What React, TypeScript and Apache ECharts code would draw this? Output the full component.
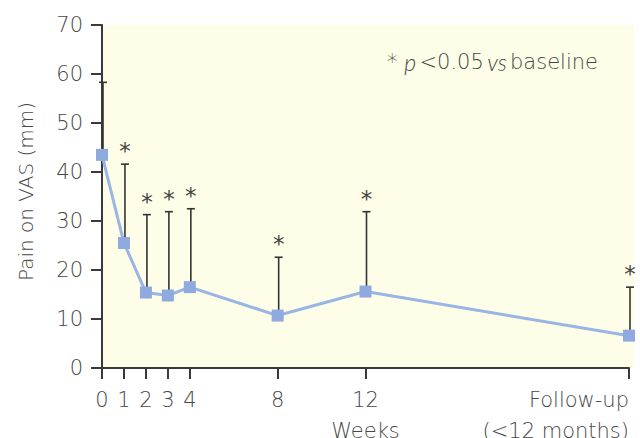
import React, { useEffect, useRef } from "react";
import * as echarts from "echarts";

const weeks = [0, 1, 2, 3, 4, 8, 12, 24];
const meanPain = [43.5, 25.5, 15.4, 14.8, 16.5, 10.7, 15.6, 6.6];
const upperSD = [58.3, 41.6, 31.3, 31.9, 32.5, 22.6, 31.9, 16.5];
const significant = [false, true, true, true, true, true, true, true];
const xTickLabels: Record<number, string> = {
  0: "0",
  1: "1",
  2: "2",
  3: "3",
  4: "4",
  8: "8",
  12: "12",
  24: "Follow-up\n(<12 months)",
};
const yTicks = { min: 0, max: 70, interval: 10 };

const FONT = "'DejaVu Sans', sans-serif";
const ITALIC_FONT = "Lato, 'DejaVu Sans', sans-serif";
const TXT = "#474747";
const W = 200;

export default function App() {
  const ref = useRef<HTMLDivElement>(null);
  useEffect(() => {
    document.body.style.margin = "0";
    const chart = echarts.init(ref.current!, null, { renderer: "svg" });
    const errData = weeks.map((w, i) => [w, meanPain[i], upperSD[i], significant[i] ? 1 : 0]);
    chart.setOption({
      animation: false,
      textStyle: { fontFamily: FONT },
      grid: { left: 102, right: 11, top: 25, bottom: 70, containLabel: false, outerBoundsMode: "none" },
      graphic: [
        {
          type: "rect",
          z: -10,
          silent: true,
          shape: { x: 102, y: 25, width: 532, height: 343 },
          style: { fill: "#fefde8" },
        },
        {
          type: "text",
          right: 42,
          top: 50,
          style: {
            text: "{a|*}  {i|p} {a|<0.05} {i|vs} {a|baseline}",
            rich: {
              a: { fontSize: 21, fontFamily: FONT, fill: TXT, fontWeight: W },
              i: { fontSize: 23, fontFamily: ITALIC_FONT, fill: TXT, fontStyle: "italic", fontWeight: 300 },
            },
          },
        },
      ],
      xAxis: {
        type: "value",
        min: 0,
        max: 24,
        name: "Weeks",
        nameLocation: "middle",
        nameGap: 52,
        nameMoveOverlap: false,
        nameTextStyle: { fontSize: 21, color: TXT, fontFamily: FONT, fontWeight: W },
        axisLine: { show: true, onZero: false, lineStyle: { color: "#3a3a3a", width: 2 } },
        axisTick: { show: true, length: 11, customValues: weeks, lineStyle: { color: "#3a3a3a", width: 2 } },
        axisLabel: {
          customValues: weeks,
          formatter: (v: number) => xTickLabels[v] ?? "",
          fontSize: 21,
          lineHeight: 31,
          color: TXT,
          fontFamily: FONT,
          fontWeight: W,
          margin: 16,
          alignMaxLabel: "right",
        },
        splitLine: { show: false },
      },
      yAxis: {
        type: "value",
        min: yTicks.min,
        max: yTicks.max,
        interval: yTicks.interval,
        name: "Pain on VAS (mm)",
        nameLocation: "middle",
        nameGap: 66,
        nameMoveOverlap: false,
        nameTextStyle: { fontSize: 20, color: TXT, fontFamily: FONT, fontWeight: W, padding: [0, 0, 0, 10] },
        axisLine: { show: true, lineStyle: { color: "#3a3a3a", width: 2 } },
        axisTick: { show: true, length: 11, lineStyle: { color: "#3a3a3a", width: 2 } },
        axisLabel: { fontSize: 21, color: TXT, fontFamily: FONT, fontWeight: W, margin: 19 },
        splitLine: { show: false },
      },
      series: [
        {
          type: "custom",
          z: 1,
          data: errData,
          renderItem: (params: any, api: any) => {
            const x = api.value(0);
            const p = api.coord([x, api.value(1)]);
            const t = api.coord([x, api.value(2)]);
            const sig = api.value(3);
            const px = p[0] + 1;
            const children: any[] = [
              {
                type: "line",
                shape: { x1: px, y1: p[1], x2: px, y2: t[1] },
                style: { stroke: "#333", lineWidth: 1.6 },
              },
              {
                type: "line",
                shape: { x1: px - 4, y1: t[1], x2: px + 4, y2: t[1] },
                style: { stroke: "#333", lineWidth: 1.6 },
              },
            ];
            if (sig) {
              children.push({
                type: "text",
                x: px,
                y: t[1] - 13,
                style: {
                  text: "*",
                  fontSize: 23,
                  fontFamily: FONT,
                  fontWeight: "normal",
                  fill: "#444",
                  align: "center",
                  verticalAlign: "middle",
                },
              });
            }
            return { type: "group", children };
          },
        },
        {
          type: "line",
          z: 5,
          data: weeks.map((w, i) => [w, meanPain[i]]),
          symbol: "rect",
          symbolSize: 12,
          itemStyle: { color: "#8eaade" },
          lineStyle: { color: "#98b5e4", width: 3 },
        },
      ],
    });
    return () => chart.dispose();
  }, []);
  return <div ref={ref} style={{ width: 640, height: 438 }} />;
}
